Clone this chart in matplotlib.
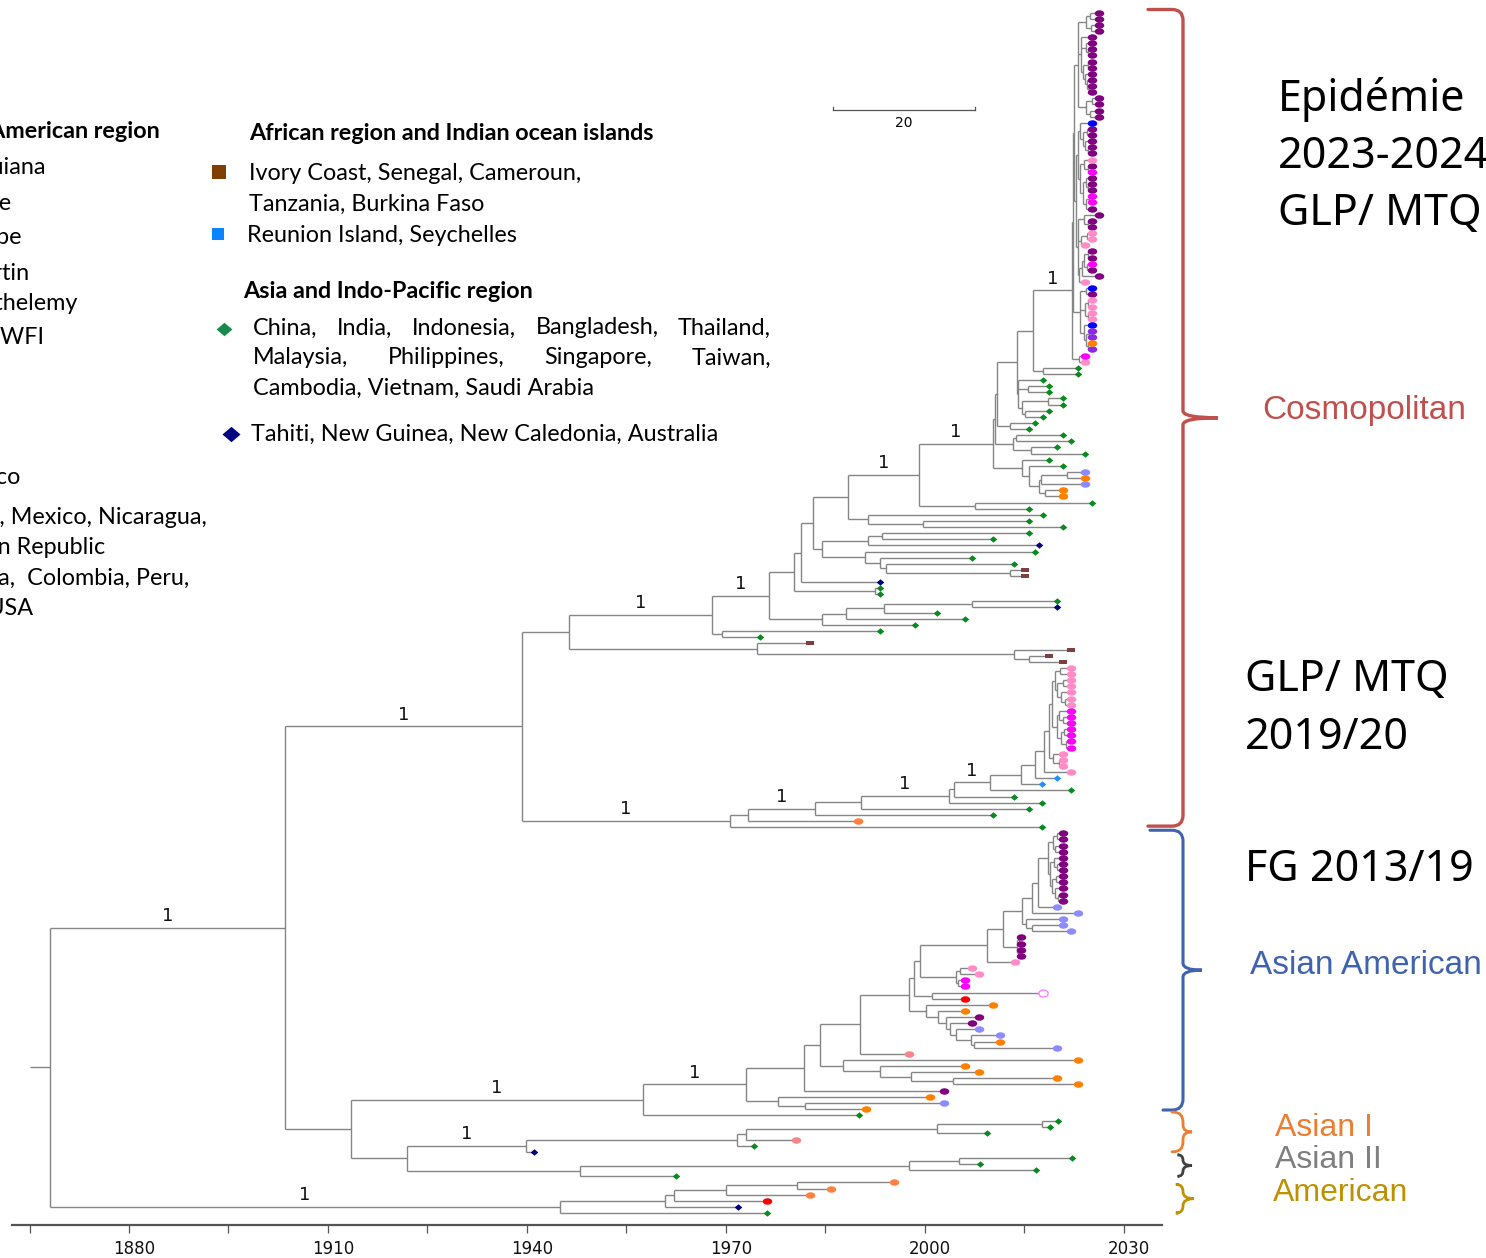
import re
import numpy as np
import matplotlib
matplotlib.use("Agg")
import matplotlib.pyplot as plt
from matplotlib.collections import LineCollection
from matplotlib.path import Path
from matplotlib.patches import PathPatch
from matplotlib.transforms import ScaledTranslation

W, H = 1486, 1258

# ---------------------------------------------------------------------------
# Tree data, Newick-like: "(child,child)@date" for nodes, "CODE@date" for tips,
# "#1" marks a node whose branch carries a posterior support label of 1.
# ---------------------------------------------------------------------------
EPI_A = ("(((P@2026.3,P@2026.3)@2025.0,(P@2026.3,P@2026.3)@2025.1)@2024.3,"
         "(P@2025.25,(P@2025.25,(P@2025.25,P@2025.25)@2024.6)@2024.3,"
         "((P@2025.25,P@2025.25)@2024.7,(P@2025.25,(P@2025.25,(P@2025.25,P@2025.25)@2024.8)@2024.5)@2024.2)@2023.9)@2023.6,"
         "((P@2026.3,P@2026.3)@2025.2,(P@2026.3,P@2026.3)@2025.0)@2024.4)@2023.2")
EPI_B12 = ("((B@2025.25,((P@2025.25,P@2025.25)@2024.5,(P@2025.25,(P@2025.25,P@2025.25)@2024.6)@2024.2)@2023.9)@2023.5,"
           "((K@2025.25,(P@2025.25,M@2025.25)@2024.6)@2024.1,((P@2025.25,(P@2025.25,P@2025.25)@2024.7)@2024.3,"
           "((M@2025.25,M@2025.25)@2024.8,P@2025.25)@2024.4)@2023.9)@2023.5)@2023.1")
EPI_B345 = ("((P@2026.3,(P@2025.25,P@2025.25)@2024.6)@2024.0,((K@2025.25,K@2025.25)@2024.5,K@2024.2)@2023.6,"
            "((((P@2025.25,P@2025.25)@2024.6,(M@2025.25,P@2025.25)@2024.5)@2024.1,P@2026.3)@2023.7,K@2024.2)@2023.3)@2023.2")
EPI_B6 = ("((B@2025.25,P@2025.25)@2024.4,((K@2025.25,K@2025.25)@2024.7,(K@2025.25,K@2025.25)@2024.6)@2024.2,"
          "(B@2025.25,((V@2025.25,V@2025.25)@2024.8,(O@2025.25,V@2025.25)@2024.7)@2024.4)@2024.0)@2023.4")
EPI_B7 = "(M@2024.2,K@2024.2)@2023.3"
EPIDEMIC = f"((({EPI_A},({EPI_B12},{EPI_B345})@2022.9)@2022.6,{EPI_B6})@2022.4,{EPI_B7})@2022.18#1"

ASIA_60 = ("(G@2017.86,(G@2018.76,G@2018.76)@2015.55,((G@2020.87,G@2020.87)@2018.61,"
           "(G@2018.76,G@2017.86)@2015.14)@2014.69)@2014.09")
ASIA_67 = "(G@2016.65,G@2015.75)@2012.88"
ASIA_69 = "((G@2020.87,G@2022.08)@2013.79,(G@2019.97,G@2024.19)@2016.05)@2013.33"
ASIA_73 = ("(G@2018.76,(G@2020.87,(((L@2024.19,O@2024.19)@2021.43,L@2024.19)@2017.56,"
           "(O@2020.87,O@2020.87)@2018.16)@2017.25)@2015.75)@2014.65")
ASIA_80 = "(G@2025.25,G@2015.75)@2007.6"
ASIA_82 = "(G@2017.86,(G@2015.75,G@2020.87)@1999.76)@1991.46"
ASIA_85 = ("(((G@2015.75,G@2010.32)@1993.53,N@2017.25)@1991.46,(G@2016.65,(G@2007.15,"
           "(G@2013.48,(Q@2015.14,Q@2015.14)@2012.88)@1994.18)@1993.27)@1991.01)@1984.48")
ASIA_96 = "((((G@2019.97,N@2019.97)@2007.15,G@2001.87)@1993.88,G@2006.09)@1988.14,G@1998.55)@1984.52"
AFRICA_103 = "(Q@1982.71,(Q@2022.08,(Q@2018.76,Q@2020.87)@2015.75)@2013.45)@1974.65"

C_1033 = f"({EPIDEMIC},(G@2023.14,G@2023.14)@2017.86)@2016.35"
C_1017 = f"({C_1033},{ASIA_60})@2013.94"
C_997 = f"({C_1017},{ASIA_67})@2010.92"
C_996 = f"({C_997},{ASIA_69})@2010.6"
C_993 = f"({C_996},{ASIA_73})@2010.27#1"
C_919 = f"({C_993},{ASIA_80})@1999.11#1"
C_848 = f"({C_919},{ASIA_82})@1988.4"
C_813 = f"({C_848},{ASIA_85})@1983.17"
C_800 = f"({C_813},N@1993.27)@1981.37"
C_794 = f"({C_800},(G@1993.27,G@1993.27)@1992.52)@1980.23"
C_769 = f"({C_794},{ASIA_96})@1976.53#1"
C_712 = f"({C_769},(G@1993.27,G@1975.17)@1969.44)@1967.93#1"
C_569 = f"({C_712},{AFRICA_103})@1946.33"

GLP_K = ("((K@2022.08,K@2022.08)@2020.4,((K@2022.08,K@2022.08)@2020.9,"
         "(K@2022.08,(K@2022.08,K@2022.08)@2021.2)@2020.6)@2020.0)@2019.6")
GLP_M = ("((M@2022.08,(M@2022.08,M@2022.08)@2020.9)@2020.3,((M@2022.08,M@2022.08)@2021.0,"
         "(M@2022.08,M@2022.08)@2021.3)@2020.6)@2019.9")
GLP_2019 = f"((({GLP_K},{GLP_M})@2019.2,(K@2020.87,(K@2020.87,K@2020.87)@2020.3)@2019.4)@2018.8,K@2022.08)@2018.0"
C_1035 = f"({GLP_2019},A@2019.97)@2016.59"
C_1022 = f"({C_1035},A@2017.71)@2014.6"
C_990 = f"({C_1022},G@2022.08)@2009.86#1"
C_954 = f"({C_990},G@2013.48)@2004.43"
C_949 = f"({C_954},G@2017.71)@2003.68#1"
C_861 = f"({C_949},G@2015.75)@1990.38"
C_815 = f"({C_861},G@2010.32)@1983.53#1"
C_748 = f"({C_815},C@1989.95)@1973.36"
C_730 = f"({C_748},G@2017.71)@1970.65#1"
COSMOPOLITAN = f"({C_569},{C_730})@1939.26#1"

AA_FG = ("(((P@2020.87,P@2020.87)@2019.9,(P@2020.87,P@2020.87)@2019.7)@2019.3,"
         "((P@2020.87,(P@2020.87,P@2020.87)@2020.0)@2019.5,((P@2020.87,P@2020.87)@2019.8,"
         "(P@2020.87,(P@2020.87,P@2020.87)@2020.1)@2019.6)@2019.2)@2018.9)@2018.6")
AA_1022 = f"((({AA_FG},L@2019.97)@2017.1,L@2023.14)@2016.15,(L@2020.87,(L@2020.87,L@2022.08)@2016.15)@2015.3)@2014.69"
AA_1003 = f"({AA_1022},((P@2014.54,P@2014.54)@2014.25,(P@2014.54,P@2014.54)@2014.2)@2013.89)@2011.77"
AA_987 = f"({AA_1003},K@2013.63)@2009.37"
AA_920 = f"({AA_987},((K@2007.15,K@2008.2)@2005.3,(M@2006.09,M@2006.09)@2005.1)@2004.74)@1999.3"
AA_913 = f"({AA_920},(W@2017.86,R@2006.09)@2001.07)@1998.33"
AA_926 = ("(O@2010.32,(O@2006.09,(P@2008.2,(P@2007.15,(L@2008.2,(L@2011.37,(O@2011.37,L@2019.97)@2007.45)"
          "@2007.0)@2004.74)@2003.83)@2003.23)@2002.02)@2000.16")
AA_909 = f"({AA_913},{AA_926})@1997.65"
AA_843 = "(O@2023.14,(O@2006.09,(O@2008.2,(O@2019.97,O@2023.14)@2004.24)@1997.95)@1993.27)@1987.69"
AA_804 = f"((({AA_909},S@1997.65)@1990.26,{AA_843})@1984.22,P@2002.93)@1981.76"
AA_746 = f"({AA_804},(O@2000.81,(L@2002.93,O@1991.16)@1981.96)@1977.93)@1973.09#1"
ASIAN_AMERICAN = f"({AA_746},G@1990.11)@1957.59#1"

ASIAN_I = "(((((G@2020.05,G@2018.91)@2017.78,G@2009.41)@2001.81,S@1980.6)@1973.09,G@1974.22)@1971.64,N@1941.09)@1939.88#1"
ASIAN_II = "(((G@2022.2,G@2008.36)@2005.19,G@2016.8)@1997.65,G@1962.5)@1948.02"
ASIAN_LINEAGES = f"({ASIAN_AMERICAN},({ASIAN_I},{ASIAN_II})@1921.89)@1913.44"
AMERICAN = "(((((C@1995.46,C@1985.88)@1980.69,C@1982.71)@1969.97,R@1976.23)@1962.17,N@1971.79)@1960.84,G@1976.23)@1945.0#1"
TREE = f"(({COSMOPOLITAN},{ASIAN_LINEAGES})@1903.53#1,{AMERICAN})@1868.08"
ROOT_STUB_YEAR = 1865.07

TICK_YEARS = list(range(1865, 2031, 15))
LABEL_YEARS = [1880, 1910, 1940, 1970, 2000, 2030]
SCALE_BAR_LABEL = "20"

# tip code -> colour, shape
TIP_STYLE = {
    "P": ("#800080", "ell"), "K": ("#FF8CC6", "ell"), "M": ("#FF00FF", "ell"),
    "B": ("#0000FF", "ell"), "V": ("#8A2BE2", "ell"), "L": ("#8C8CFF", "ell"),
    "O": ("#FF8000", "ell"), "C": ("#FF8040", "ell"), "R": ("#FF0000", "ell"),
    "S": ("#F7868C", "ell"), "W": ("#FF80FF", "open"), "G": ("#0A8A1E", "dia"),
    "N": ("#000080", "dia"), "A": ("#1E90FF", "dia"), "Q": ("#7F3F3F", "rect"),
}

CLADE_NAMES = ["Cosmopolitan", "Asian American", "Asian I", "Asian II", "American"]
CLADE_ROWS = [(0, 133), (134, 180), (181, 186), (187, 190), (191, 196)]
CLADE_COLORS = ["#C0504D", "#3F63AE", "#ED7D31", "#404040", "#BF9000"]
CLADE_TEXT_COLORS = ["#C0504D", "#3F63AE", "#ED7D31", "#7F7F7F", "#BF9000"]

NOTES = [["Epidémie", "2023-2024", "GLP/ MTQ"], ["GLP/ MTQ", "2019/20"], ["FG 2013/19"]]

AMERICAS_TITLE = "Caribbean and American region"
AMERICAS_ITEMS = ["French Guiana", "Martinique", "Guadeloupe", "Saint-Martin", "Saint-Barthelemy",
                  "Other WFI", "Puerto Rico", "Honduras, Mexico, Nicaragua,", "Dominican Republic",
                  "Venezuela,  Colombia, Peru,", "Brazil, USA"]
AFRICA_TITLE = "African region and Indian ocean islands"
AFRICA_ITEMS = [["Ivory Coast, Senegal, Cameroun,", "Tanzania, Burkina Faso"], ["Reunion Island, Seychelles"]]
ASIA_TITLE = "Asia and Indo-Pacific region"
ASIA_ITEMS = [["China, India, Indonesia, Bangladesh, Thailand,", "Malaysia, Philippines, Singapore, Taiwan,",
               "Cambodia, Vietnam, Saudi Arabia"], ["Tahiti, New Guinea, New Caledonia, Australia"]]


# ---------------------------------------------------------------------------
def parse_tree(text):
    s = re.sub(r"\s+", "", text)
    pos = 0

    def node():
        nonlocal pos
        kids = []
        if s[pos] == "(":
            pos += 1
            while True:
                kids.append(node())
                if s[pos] == ",":
                    pos += 1
                    continue
                pos += 1  # ')'
                break
        m = re.match(r"([A-Za-z]*)@([0-9.]+)(#1)?", s[pos:])
        pos += m.end()
        return {"code": m.group(1), "t": float(m.group(2)), "sup": bool(m.group(3)), "kids": kids}

    return node()


def layout(n, tips):
    if not n["kids"]:
        n["y"] = len(tips)
        tips.append(n)
    else:
        for k in n["kids"]:
            layout(k, tips)
        n["y"] = 0.5 * (n["kids"][0]["y"] + n["kids"][-1]["y"])


def collect(n, segs, sups):
    if not n["kids"]:
        return
    ys = [k["y"] for k in n["kids"]]
    segs.append([(n["t"], min(ys)), (n["t"], max(ys))])
    for k in n["kids"]:
        segs.append([(n["t"], k["y"]), (k["t"], k["y"])])
        if k["sup"]:
            sups.append((0.5 * (n["t"] + k["t"]), k["y"]))
        collect(k, segs, sups)


root = parse_tree(TREE)
tips = []
layout(root, tips)
segs, sups = [], []
collect(root, segs, sups)
segs.append([(ROOT_STUB_YEAR, root["y"]), (root["t"], root["y"])])

# pixel geometry of the tree panel
PX_PER_YEAR = 6.63
YEAR_AT_X0 = 1880 - 129 / PX_PER_YEAR
ROW0 = 12.5
ROWH = (1213 - ROW0) / (len(tips) - 1)


def px_y(row):
    return ROW0 + ROWH * row


def year_at(px):
    return YEAR_AT_X0 + px / PX_PER_YEAR


fig = plt.figure(figsize=(W / 100, H / 100), dpi=100, facecolor="white")
ax = fig.add_axes([0, 0, 1, 1])
ax.set_xlim(YEAR_AT_X0, YEAR_AT_X0 + W / PX_PER_YEAR)
ax.set_ylim((H - ROW0) / ROWH, -ROW0 / ROWH)

ax.add_collection(LineCollection(segs, colors="#858585", linewidths=1.0, zorder=1))

circ = Path.unit_circle()
SHAPES = {
    "ell": Path(circ.vertices * np.array([1.0, 0.68]), circ.codes),
    "open": Path(circ.vertices * np.array([1.0, 0.75]), circ.codes),
    "dia": Path([(0, 0.85), (1, 0), (0, -0.85), (-1, 0), (0, 0.85)], closed=True),
    "rect": Path([(-1, -0.56), (1, -0.56), (1, 0.56), (-1, 0.56), (-1, -0.56)], closed=True),
}
SIZES = {"ell": 47, "open": 45, "dia": 30, "rect": 33}

for code, (color, shape) in TIP_STYLE.items():
    pts = [(t["t"], t["y"]) for t in tips if t["code"] == code]
    if not pts:
        continue
    xs, ys = zip(*pts)
    if shape == "open":
        ax.scatter(xs, ys, s=SIZES[shape], marker=SHAPES[shape], facecolors="white",
                   edgecolors=color, linewidths=1.0, zorder=3)
    else:
        ax.scatter(xs, ys, s=SIZES[shape], marker=SHAPES[shape], c=color, linewidths=0, zorder=3)

for x, y in sups:
    ax.annotate("1", (x, y), xytext=(0, 2), textcoords="offset points", ha="center", va="bottom",
                fontsize=13, family="DejaVu Sans", color="#111111")

# time axis
for side in ("left", "right", "top"):
    ax.spines[side].set_visible(False)
ax.spines["bottom"].set_position(("data", (1225 - ROW0) / ROWH))
ax.spines["bottom"].set_bounds(year_at(12), year_at(1162))
ax.spines["bottom"].set_color("#555555")
ax.spines["bottom"].set_linewidth(1.6)
ax.set_xticks(TICK_YEARS)
ax.set_xticklabels([str(y) if y in LABEL_YEARS else "" for y in TICK_YEARS])
ax.tick_params(axis="x", direction="out", length=6, width=0.9, color="#555555",
               labelsize=12, pad=5, labelcolor="#111111")
shift = ScaledTranslation(5 / 100, 0, fig.dpi_scale_trans)
for lab in ax.get_xticklabels():
    lab.set_transform(lab.get_transform() + shift)
ax.set_yticks([])

# scale bar
sb_row = (110 - ROW0) / ROWH
sb0, sb1 = year_at(833), year_at(975)
ax.plot([sb0, sb1], [sb_row, sb_row], color="#555555", lw=0.9)
ax.plot([sb0, sb0], [sb_row - 0.5, sb_row], color="#555555", lw=0.9)
ax.plot([sb1, sb1], [sb_row - 0.5, sb_row], color="#555555", lw=0.9)
ax.text(0.5 * (sb0 + sb1), sb_row + 0.9, SCALE_BAR_LABEL, ha="center", va="top", fontsize=10,
        family="DejaVu Sans")

# ---------------------------------------------------------------------------
# overlay in pixel coordinates for braces, notes and legend
ov = fig.add_axes([0, 0, 1, 1], zorder=5)
ov.set_xlim(0, W)
ov.set_ylim(H, 0)
ov.axis("off")


def brace(x, y0, y1, xtip, hook0, hook1, color, lw, r=11, rt=7):
    ytip = 0.5 * (y0 + y1)
    r = min(r, (y1 - y0) / 4)
    rt = min(rt, (y1 - y0) / 4)
    verts = [(hook0, y0), (x - r, y0), (x, y0), (x, y0 + r),
             (x, ytip - rt), (x, ytip), (xtip, ytip),
             (x, ytip), (x, ytip + rt),
             (x, y1 - r), (x, y1), (x - r, y1), (hook1, y1)]
    codes = [Path.MOVETO, Path.LINETO, Path.CURVE3, Path.CURVE3,
             Path.LINETO, Path.CURVE3, Path.CURVE3,
             Path.CURVE3, Path.CURVE3,
             Path.LINETO, Path.CURVE3, Path.CURVE3, Path.LINETO]
    ov.add_patch(PathPatch(Path(verts, codes), fc="none", ec=color, lw=lw, capstyle="round"))


BRACE_GEOM = [  # (tip length, top hook, bottom hook, pad top, pad bottom, lw)
    (35, 35, 35, -3, -1, 2.4), (19, 33, 20, -3, -5, 2.2), (9, 11, 11, -9, 0, 2.0),
    (9, 5, 5, -3, 0, 2.0), (11, 5, 5, 2, 0, 2.0)]
SPINE_X = 1183
for (r0, r1), col, g in zip(CLADE_ROWS, CLADE_COLORS, BRACE_GEOM):
    tl, h0, h1, p0, p1, lw = g
    brace(SPINE_X, px_y(r0) + p0, px_y(r1) + p1, SPINE_X + tl, SPINE_X - h0, SPINE_X - h1, col, lw)

CLADE_TEXT_POS = [(1262, 410, 24), (1250, 965, 24), (1275, 1128, 23), (1275, 1160, 23), (1273, 1193, 23)]
for name, col, (x, y, fs) in zip(CLADE_NAMES, CLADE_TEXT_COLORS, CLADE_TEXT_POS):
    ov.text(x, y, name, color=col, fontsize=fs, family="Liberation Sans", va="center", ha="left")

NOTE_POS = [(1278, [100, 157, 214]), (1245, [680, 738]), (1245, [870])]
for lines, (x, ys) in zip(NOTES, NOTE_POS):
    for line, y in zip(lines, ys):
        ov.text(x, y, line, fontsize=31, family="Noto Sans", va="center", ha="left", color="black")

# legend
LF = "Lato"
LS = 16.8
ov.text(160, 132, AMERICAS_TITLE, fontsize=LS, family=LF, weight="bold", ha="right", va="center")
AMERICAS_POS = [(45, 168), (12, 203), (22, 238), (29, 273), (78, 304), (44, 337),
                (20, 477), (207, 517), (105, 548), (189, 578), (33, 608)]
for txt, (x, y) in zip(AMERICAS_ITEMS, AMERICAS_POS):
    ov.text(x, y, txt, fontsize=LS, family=LF, ha="right", va="center")

ov.text(249, 133, AFRICA_TITLE, fontsize=LS, family=LF, weight="bold", ha="left", va="center")
ov.scatter([219], [172], marker="s", s=100, c="#7F3F00", linewidths=0)
ov.scatter([218], [234], marker="s", s=75, c="#0A84FF", linewidths=0)
for lines, x, ys in zip(AFRICA_ITEMS, [249, 247], [[173, 204], [236]]):
    for line, y in zip(lines, ys):
        ov.text(x, y, line, fontsize=LS, family=LF, ha="left", va="center")

ov.text(243, 291, ASIA_TITLE, fontsize=LS, family=LF, weight="bold", ha="left", va="center")
ov.scatter([224], [329], marker=SHAPES["dia"], s=130, c="#1A8A4A", linewidths=0)
ov.scatter([231], [434], marker=SHAPES["dia"], s=170, c="#000080", linewidths=0)

renderer = fig.canvas.get_renderer()


def justified(line, x0, x1, y):
    words = line.split()
    arts = [ov.text(x0, y, w, fontsize=LS, family=LF, ha="left", va="center") for w in words]
    widths = [a.get_window_extent(renderer).width for a in arts]
    gap = (x1 - x0 - sum(widths)) / (len(words) - 1)
    x = x0
    for a, wd in zip(arts, widths):
        a.set_x(x)
        x += wd + gap


justified(ASIA_ITEMS[0][0], 253, 771, 328)
justified(ASIA_ITEMS[0][1], 253, 771, 358)
ov.text(253, 388, ASIA_ITEMS[0][2], fontsize=LS, family=LF, ha="left", va="center")
ov.text(251, 434, ASIA_ITEMS[1][0], fontsize=LS, family=LF, ha="left", va="center")

fig.savefig("out.png", dpi=100, facecolor="white")
